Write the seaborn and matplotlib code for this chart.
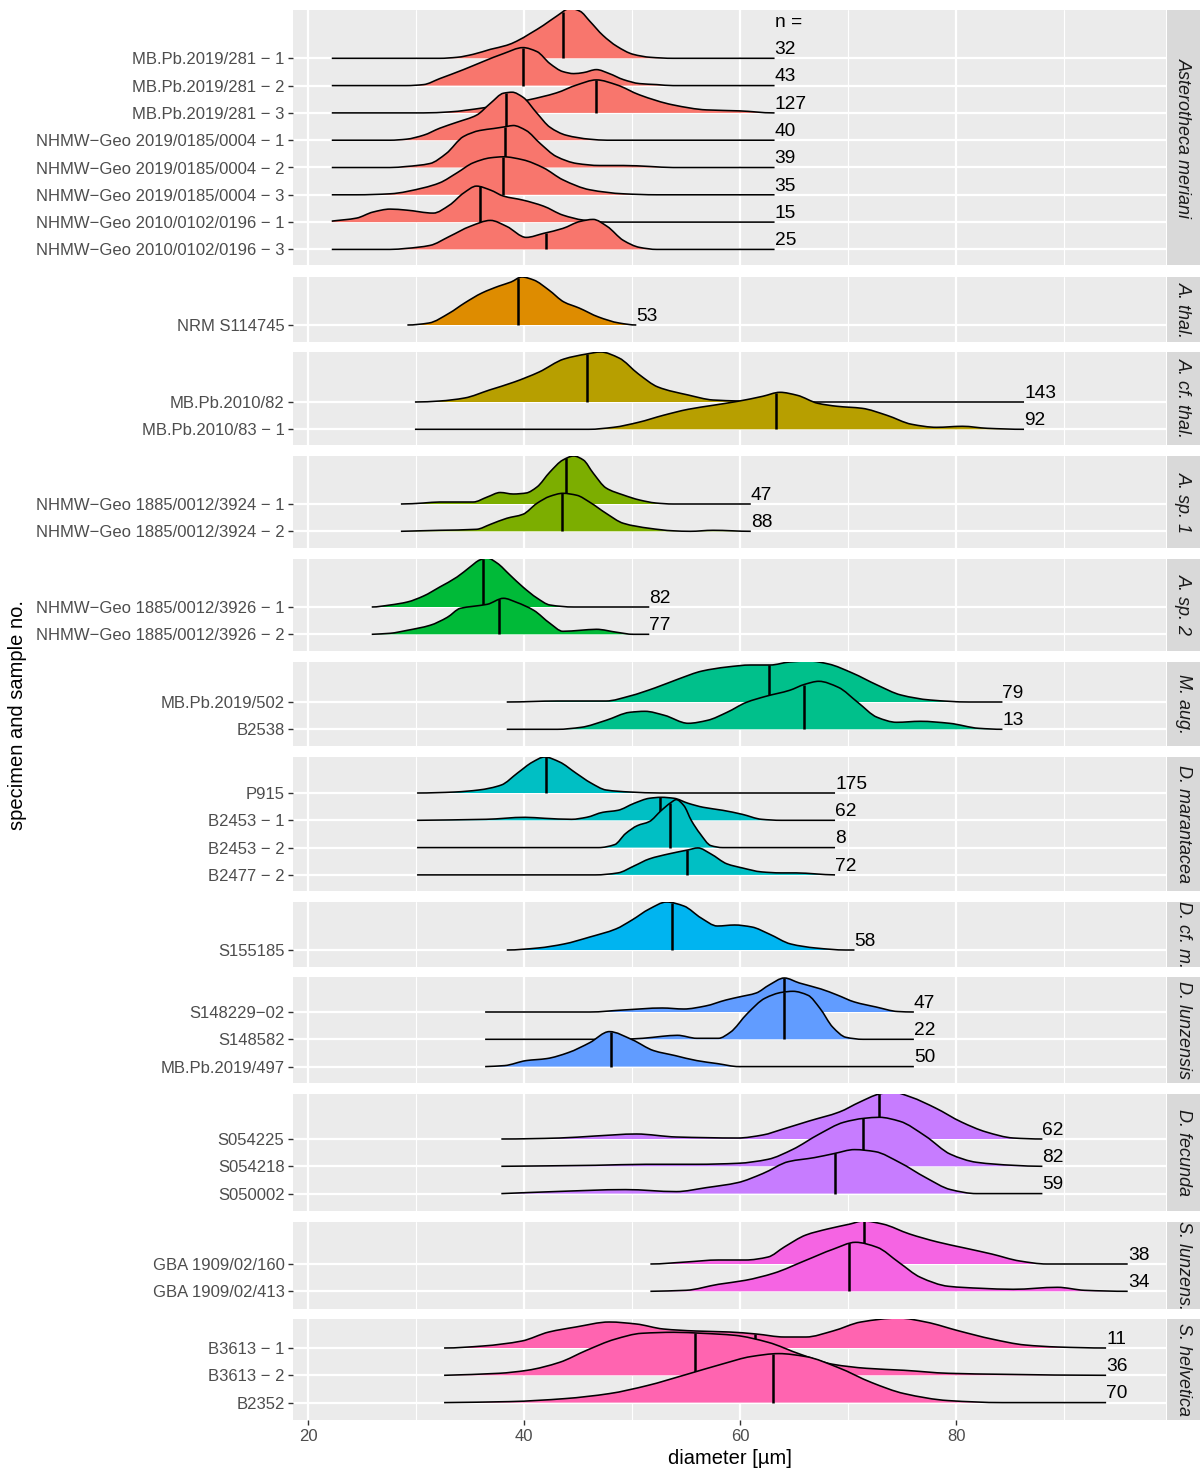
import numpy as np
import pandas as pd
import matplotlib
matplotlib.use("Agg")
import matplotlib.pyplot as plt
from matplotlib.path import Path
from matplotlib.patches import PathPatch
import seaborn as sns

sns.set_theme(style="darkgrid")
plt.rcParams['font.family'] = ['Liberation Sans', 'DejaVu Sans']

# ---------------- data ----------------
strip_labels = ["Asterotheca meriani", "A. thal.", "A. cf. thal.", "A. sp. 1", "A. sp. 2",
                "M. aug.", "D. marantacea", "D. cf. m.", "D. lunzensis", "D. fecunda",
                "S. lunzens.", "S. helvetica"]

row_labels = [
    ["MB.Pb.2019/281 − 1", "MB.Pb.2019/281 − 2", "MB.Pb.2019/281 − 3",
     "NHMW−Geo 2019/0185/0004 − 1", "NHMW−Geo 2019/0185/0004 − 2", "NHMW−Geo 2019/0185/0004 − 3",
     "NHMW−Geo 2010/0102/0196 − 1", "NHMW−Geo 2010/0102/0196 − 3"],
    ["NRM S114745"],
    ["MB.Pb.2010/82", "MB.Pb.2010/83 − 1"],
    ["NHMW−Geo 1885/0012/3924 − 1", "NHMW−Geo 1885/0012/3924 − 2"],
    ["NHMW−Geo 1885/0012/3926 − 1", "NHMW−Geo 1885/0012/3926 − 2"],
    ["MB.Pb.2019/502", "B2538"],
    ["P915", "B2453 − 1", "B2453 − 2", "B2477 − 2"],
    ["S155185"],
    ["S148229−02", "S148582", "MB.Pb.2019/497"],
    ["S054225", "S054218", "S050002"],
    ["GBA 1909/02/160", "GBA 1909/02/413"],
    ["B3613 − 1", "B3613 − 2", "B2352"],
]

n_counts = [[32, 43, 127, 40, 39, 35, 15, 25], [53], [143, 92], [47, 88], [82, 77], [79, 13],
            [175, 62, 8, 72], [58], [47, 22, 50], [62, 82, 59], [38, 34], [11, 36, 70]]

medians = [[43.6, 39.9, 46.7, 38.3, 38.2, 38.1, 35.9, 42.0], [39.4], [45.8, 63.3], [43.9, 43.5],
           [36.2, 37.7], [62.7, 65.9], [42.0, 52.6, 53.5, 55.1], [53.7], [64.1, 64.1, 48.1],
           [72.9, 71.4, 68.8], [71.5, 70.1], [61.4, 55.8, 63.1]]

# data range (µm) of each facet
data_ranges = [(22.2, 63.2), (29.2, 50.4), (29.9, 86.3), (28.6, 61.0), (25.9, 51.6), (38.4, 84.3),
               (30.1, 68.8), (38.4, 70.6), (36.4, 76.1), (37.9, 88.0), (51.7, 95.9), (32.6, 93.9)]

# density profiles: (diameter µm, density height, px)
dens_asterotheca = [
    ([32.2, 33.8, 35.3, 36.9, 38.4, 39.3, 40.6, 41.8, 43.0, 44.3, 45.2, 46.1, 47.3, 48.6, 50.1, 51.7, 53.8],
     [0, 1, 4, 9, 13, 17, 25, 33, 42, 50, 47, 37, 23, 12, 4, 1, 0]),
    ([29.1, 30.7, 32.2, 34.4, 36.2, 38.1, 39.9, 41.2, 42.4, 43.6, 44.6, 45.5, 46.7, 47.9, 49.2, 50.7, 52.3, 53.8],
     [0, 1, 7, 16, 24, 32, 38, 34, 22, 14, 12, 13, 16, 12, 6, 2, 1, 0]),
    ([30.7, 33.1, 36.2, 38.4, 40.4, 43.0, 44.9, 46.7, 48.6, 50.7, 53.8, 56.9, 60.0, 63.1],
     [0, 1, 5, 9, 13, 20, 28, 33, 28, 18, 8, 3, 2, 0]),
    ([27.6, 29.1, 30.7, 32.2, 33.8, 35.6, 36.9, 38.1, 38.9, 39.9, 41.2, 42.4, 43.9, 46.1, 47.7],
     [0, 1, 5, 12, 18, 25, 37, 47, 48, 43, 27, 13, 5, 1, 0]),
    ([27.6, 29.1, 31.3, 32.8, 34.4, 35.9, 37.2, 38.4, 39.0, 40.2, 41.5, 43.0, 44.9, 47.0, 49.2, 51.7, 53.8],
     [0, 1, 4, 14, 31, 37, 39, 41, 42, 37, 24, 11, 4, 2, 2, 1, 0]),
    ([24.5, 27.6, 30.7, 32.2, 33.8, 35.3, 36.9, 38.1, 39.9, 41.8, 43.6, 46.1, 49.2, 52.3],
     [0, 1, 7, 12, 22, 32, 37, 38, 35, 27, 15, 5, 1, 0]),
    ([22.2, 24.5, 26.0, 27.6, 29.1, 31.6, 33.1, 34.4, 35.6, 36.9, 38.1, 39.9, 41.8, 43.6, 45.5, 47.7],
     [1, 4, 10, 13, 12, 9, 17, 29, 36, 32, 26, 22, 16, 7, 2, 0]),
    ([27.6, 29.1, 31.3, 33.1, 35.0, 36.9, 38.4, 40.2, 41.8, 43.6, 45.2, 46.4, 47.7, 49.2, 50.7, 52.3],
     [0, 1, 4, 13, 23, 29, 23, 12, 16, 21, 28, 30, 23, 9, 2, 0]),
]
dens_a_thal = [
    ([29.2, 31.2, 33.1, 34.5, 36.1, 37.7, 38.8, 39.8, 40.9, 42.3, 43.7, 45.1, 46.9, 48.8, 50.4],
     [0, 2, 12, 22, 32, 39, 43, 48, 45, 35, 23, 17, 8, 2, 0]),
]
dens_a_cf_thal = [
    ([29.9, 32.2, 34.5, 36.8, 39.1, 41.4, 43.7, 45.8, 47.1, 48.8, 50.6, 52.4, 55.2, 57.5, 59.8, 62.1],
     [0, 1, 4, 12, 20, 30, 43, 48, 50, 44, 28, 15, 7, 2, 1, 0]),
    ([46.0, 48.3, 50.6, 52.9, 55.2, 57.5, 59.8, 62.1, 63.7, 65.3, 67.2, 69.0, 71.3, 73.6, 75.9, 78.2, 80.6, 82.9, 86.3],
     [0, 2, 7, 14, 20, 24, 28, 33, 37, 34, 26, 23, 21, 14, 5, 2, 3, 1, 0]),
]
dens_a_sp1 = [
    ([28.6, 30.7, 32.2, 35.3, 36.6, 37.8, 39.0, 40.2, 41.2, 42.4, 43.6, 44.6, 45.5, 46.4, 47.6, 49.2, 50.7, 52.2, 53.8],
     [0, 1, 2, 2, 7, 11.5, 10, 11, 17, 32, 44, 48, 44, 31, 16, 9, 4, 1, 0]),
    ([28.6, 32.2, 35.6, 36.9, 38.4, 39.9, 41.2, 42.4, 43.6, 44.9, 46.1, 47.6, 49.2, 51.6, 53.8, 55.4, 57.5, 61.0],
     [0, 1, 2, 7, 13, 17, 28, 35, 38, 36, 29, 18, 8, 3, 0.5, 0, 1, 0]),
]
dens_a_sp2 = [
    ([25.9, 27.6, 29.2, 30.7, 32.2, 33.8, 35.0, 35.9, 36.6, 37.5, 38.7, 39.9, 41.2, 42.4, 44.6],
     [0, 2, 5, 11, 20, 30, 40, 47, 49, 44, 32, 20, 9, 2, 0]),
    ([25.9, 27.6, 29.2, 31.3, 32.9, 34.1, 35.3, 36.6, 38.1, 39.3, 40.9, 42.4, 43.6, 45.2, 46.7, 48.6, 50.1],
     [0, 1, 4, 9, 17, 26, 28, 30, 36, 32, 24, 11, 3, 4, 5, 2, 0]),
]
dens_m_aug = [
    ([38.4, 43.1, 47.6, 49.8, 52.1, 54.3, 56.5, 58.8, 61.0, 62.8, 64.6, 66.4, 68.2, 70.4, 72.7, 74.9, 77.6, 81.2],
     [0, 1, 1, 6, 14, 23, 31, 35, 37, 37, 40, 41, 38, 29, 17, 7, 2, 0]),
    ([38.4, 43.1, 45.3, 47.6, 49.8, 51.2, 53.0, 55.2, 57.0, 58.8, 60.6, 62.4, 64.6, 66.0, 67.3, 69.1, 70.9, 72.7,
      74.5, 76.7, 79.4, 82.1, 84.3],
     [0, 0, 2, 9, 17, 18, 14, 6, 9, 17, 27, 33, 39, 45, 48, 42, 27, 12, 7, 8, 6, 1, 0]),
]
dens_d_marantacea = [
    ([30.1, 33.6, 35.8, 37.9, 39.4, 40.8, 41.9, 43.3, 44.8, 46.2, 47.6, 49.8, 52.6],
     [0, 1, 3, 8, 20, 31, 36, 31, 20, 10, 3, 1, 0]),
    ([30.1, 36.5, 40.1, 41.9, 44.4, 45.8, 47.3, 48.7, 50.2, 51.6, 52.7, 53.9, 55.2, 56.6, 58.4, 60.2, 62.0, 63.8],
     [0, 1, 3, 2, 1, 3, 8, 10, 17, 22, 23, 22, 17, 13, 10, 6, 1, 0]),
    ([46.9, 48.4, 49.4, 50.5, 51.6, 52.7, 53.6, 54.1, 54.8, 55.5, 56.3, 57.3, 58.4],
     [0, 3, 14, 22, 26, 37, 45, 48, 42, 27, 14, 2, 0]),
    ([46.6, 48.7, 50.2, 51.6, 53.4, 55.2, 56.1, 57.3, 58.8, 60.2, 62.0, 63.8, 65.2, 67.0, 68.8],
     [0, 2, 9, 16, 21, 25, 27, 21, 11, 7, 3, 2, 2, 1, 0]),
]
dens_d_cf_m = [
    ([38.4, 41.3, 43.7, 46.1, 48.5, 50.0, 51.6, 53.2, 54.8, 56.4, 57.9, 59.5, 61.1, 62.7, 64.7, 67.0, 69.8],
     [0, 2, 6, 13, 21, 30, 41, 48, 44, 32, 24, 25, 23, 16, 6, 2, 0]),
]
dens_d_lunzensis = [
    ([36.4, 46.1, 49.2, 52.8, 54.8, 56.8, 58.7, 59.9, 61.5, 62.7, 64.1, 65.5, 67.5, 69.0, 70.6, 72.6, 74.6, 76.1],
     [0, 0, 2, 4, 3, 6, 12, 15, 19, 27, 34, 29, 23, 17, 10, 5, 0.5, 0]),
    ([36.4, 48.6, 51.0, 52.8, 54.2, 56.0, 58.0, 59.1, 60.7, 62.3, 63.9, 64.9, 66.3, 67.4, 68.6, 69.8, 71.4],
     [0, 0, 1, 3, 4, 1, 1, 7, 26, 41, 47, 48, 44, 31, 12, 2, 0]),
    ([36.4, 38.2, 40.2, 42.1, 44.1, 46.1, 47.9, 50.0, 52.0, 54.0, 56.0, 57.9, 59.9],
     [0, 1, 6, 8, 14, 24, 35, 27, 16, 11, 6, 3, 0]),
]
dens_d_fecunda = [
    ([37.9, 43.3, 46.6, 50.4, 54.1, 59.8, 62.1, 64.0, 66.4, 69.2, 71.1, 72.9, 74.1, 75.8, 78.1, 80.5, 82.8, 85.3, 88.0],
     [0, 1, 3, 5, 2, 1, 4, 10, 18, 27, 37, 45, 47, 42, 31, 17, 7, 1, 0]),
    ([37.9, 46.6, 51.3, 56.0, 59.8, 62.6, 64.9, 67.3, 69.6, 71.5, 72.9, 74.8, 77.2, 79.5, 81.9, 85.3, 88.0],
     [0, 1, 2, 2, 3, 7, 17, 32, 44, 48, 49, 45, 30, 12, 4, 1, 0]),
    ([37.9, 42.8, 49.4, 54.1, 56.9, 59.8, 62.1, 64.5, 66.9, 68.7, 70.6, 72.5, 74.8, 77.2, 79.5, 81.9],
     [0, 2, 4, 2, 6, 11, 20, 32, 36, 40, 44, 42, 31, 16, 4, 0]),
]
dens_s_lunzens = [
    ([51.7, 55.0, 58.0, 60.5, 62.6, 64.1, 66.1, 68.1, 70.2, 71.4, 73.2, 75.7, 78.3, 80.8, 83.3, 85.9, 88.4],
     [0, 2, 4, 4, 7, 17, 29, 35, 40, 43, 40, 30, 22, 16, 10, 3, 0]),
    ([51.7, 55.0, 58.0, 60.5, 63.1, 66.1, 68.6, 70.7, 72.7, 74.7, 76.7, 79.3, 82.3, 85.3, 89.4, 91.9, 95.9],
     [0, 1, 7, 11, 18, 31, 42, 49, 44, 29, 14, 5, 3, 2, 4, 1, 0]),
]
dens_s_helvetica = [
    ([32.6, 36.2, 39.8, 42.3, 44.8, 47.9, 50.4, 52.9, 55.9, 59.0, 61.5, 64.1, 66.1, 68.6, 71.2, 74.7, 77.2, 80.3,
      83.3, 86.4, 89.4, 93.9],
     [0, 2, 7, 16, 21, 26, 24, 19, 17, 16, 14, 11, 11, 17, 26, 30, 26, 17, 9, 3, 1, 0]),
    ([32.6, 37.7, 40.3, 43.3, 45.8, 48.4, 50.9, 53.9, 56.5, 59.5, 62.6, 65.6, 68.6, 71.7, 75.2, 79.3, 84.3, 93.9],
     [0, 2, 5, 13, 25, 36, 42, 43, 42, 40, 33, 21, 11, 7, 5, 2, 1, 0]),
    ([32.6, 38.7, 43.8, 47.9, 51.4, 55.0, 58.5, 61.0, 63.6, 66.1, 69.1, 72.2, 75.2, 79.3, 84.3],
     [0, 1, 4, 9, 17, 28, 39, 46, 49, 46, 35, 20, 9, 2, 0]),
]

densities = [dens_asterotheca, dens_a_thal, dens_a_cf_thal, dens_a_sp1, dens_a_sp2, dens_m_aug,
             dens_d_marantacea, dens_d_cf_m, dens_d_lunzensis, dens_d_fecunda, dens_s_lunzens,
             dens_s_helvetica]

colors = ["#F8766D", "#DE8C00", "#B79F00", "#7CAE00", "#00BA38", "#00C08B",
          "#00BFC4", "#00B4F0", "#619CFF", "#C77CFF", "#F564E3", "#FF64B0"]

x_major = [20, 40, 60, 80]
x_minor = [30, 50, 70, 90]

# ---------------- layout (pixels) ----------------
W, H = 1203, 1470
PX_L, PX_R = 293, 1166
STRIP_L, STRIP_R = 1167, 1200
X20_PX, PX_PER_UM = 308, 10.8
ROW_PX = 27.3
panel_px = [(10, 265, 58.3), (277, 342, 325), (352, 445, 402), (456, 548, 504),
            (559, 651, 607), (662, 746, 702), (757, 891, 793), (902, 967, 950),
            (977, 1083, 1012), (1094, 1211, 1139), (1222, 1309, 1264), (1319, 1420, 1348)]

xlim = (20 - (X20_PX - PX_L) / PX_PER_UM, 20 + (PX_R - X20_PX) / PX_PER_UM)


def pchip_slopes(x, y):
    x = np.asarray(x, float)
    y = np.asarray(y, float)
    hx = np.diff(x)
    d = np.diff(y) / hx
    m = np.zeros_like(y)
    for k in range(1, len(x) - 1):
        if d[k - 1] * d[k] > 0:
            w1 = 2 * hx[k] + hx[k - 1]
            w2 = hx[k] + 2 * hx[k - 1]
            m[k] = (w1 + w2) / (w1 / d[k - 1] + w2 / d[k])
    if y[0] != 0:
        m[0] = d[0]
    return m


def smooth_path(x, y, base, closed):
    """Cubic Bezier path passing through the read points (Hermite form)."""
    m = pchip_slopes(x, y)
    verts = [(x[0], y[0])]
    codes = [Path.MOVETO]
    for k in range(len(x) - 1):
        dx = x[k + 1] - x[k]
        verts += [(x[k] + dx / 3, y[k] + m[k] * dx / 3),
                  (x[k + 1] - dx / 3, y[k + 1] - m[k + 1] * dx / 3),
                  (x[k + 1], y[k + 1])]
        codes += [Path.CURVE4] * 3
    if closed:
        verts += [(x[-1], base), (x[0], base), (x[0], y[0])]
        codes += [Path.LINETO, Path.LINETO, Path.CLOSEPOLY]
    return Path(verts, codes), m


def hermite_at(xq, x, y, m):
    k = int(np.clip(np.searchsorted(x, xq) - 1, 0, len(x) - 2))
    dx = x[k + 1] - x[k]
    t = (xq - x[k]) / dx
    h00 = 2 * t**3 - 3 * t**2 + 1
    h10 = t**3 - 2 * t**2 + t
    h01 = -2 * t**3 + 3 * t**2
    h11 = t**3 - t**2
    return h00 * y[k] + h10 * dx * m[k] + h01 * y[k + 1] + h11 * dx * m[k + 1]


fig = plt.figure(figsize=(W / 100, H / 100), dpi=100)
fig.patch.set_facecolor("white")

TXT = "#4D4D4D"
for p, (top, bot, first) in enumerate(panel_px):
    ax = fig.add_axes([PX_L / W, 1 - bot / H, (PX_R - PX_L) / W, (bot - top) / H])
    ax.set_facecolor("#EBEBEB")
    for s in ax.spines.values():
        s.set_visible(False)
    ax.set_xlim(*xlim)
    ax.set_ylim(-(bot - first) / ROW_PX, (first - top) / ROW_PX)
    nrows = len(row_labels[p])
    rows = [-i for i in range(nrows)]
    ax.set_yticks(rows)
    ax.set_yticklabels(row_labels[p])
    ax.set_xticks(x_major)
    ax.set_xticks(x_minor, minor=True)
    ax.set_axisbelow(True)
    ax.grid(which="major", color="white", lw=1.6)
    ax.grid(which="minor", axis="x", color="white", lw=0.8)
    ax.grid(which="minor", axis="y", visible=False)
    ax.tick_params(axis="y", length=3.6, width=1.0, color="#333333", pad=2.5,
                   labelsize=12, labelcolor=TXT, left=True)
    ax.tick_params(axis="x", which="minor", length=0)
    if p == len(panel_px) - 1:
        ax.tick_params(axis="x", which="major", length=3.6, width=1.0, color="#333333",
                       pad=3, labelsize=12, labelcolor=TXT, bottom=True)
    else:
        ax.tick_params(axis="x", which="major", length=0, labelbottom=False)

    lo, hi = data_ranges[p]
    for i, (xs, hs) in enumerate(densities[p]):
        xs = list(xs)
        hs = list(hs)
        if xs[0] > lo:
            xs = [lo] + xs
            hs = [0] + hs
        if xs[-1] < hi:
            xs = xs + [hi]
            hs = hs + [0]
        base = -i
        xa = np.array(xs, float)
        ya = base + np.array(hs, float) / ROW_PX
        z = 2 + 2 * i
        fill_path, slopes = smooth_path(xa, ya, base, closed=True)
        ax.add_patch(PathPatch(fill_path, facecolor=colors[p], edgecolor="none", lw=0, zorder=z))
        line_path, _ = smooth_path(xa, ya, base, closed=False)
        ax.add_patch(PathPatch(line_path, facecolor="none", edgecolor="black", lw=1.15,
                               zorder=z + 0.5, joinstyle="round", capstyle="butt"))
        med = medians[p][i]
        top_m = hermite_at(med, xa, ya, slopes)
        mdf = pd.DataFrame({"x": [med, med], "y": [base, top_m]})
        sns.lineplot(data=mdf, x="x", y="y", ax=ax, color="black", lw=1.8, estimator=None,
                     sort=False, zorder=z + 0.6, solid_capstyle="butt")
        ax.text(hi, base + 0.01, str(n_counts[p][i]), ha="left", va="bottom", fontsize=13.8,
                color="black", zorder=50, clip_on=False)
    if p == 0:
        ax.text(hi, 1.01, "n =", ha="left", va="bottom", fontsize=13.8, color="black",
                zorder=50, clip_on=False)
    ax.set_xlabel("")
    ax.set_ylabel("")

    sax = fig.add_axes([STRIP_L / W, 1 - bot / H, (STRIP_R - STRIP_L) / W, (bot - top) / H])
    sax.set_facecolor("#D9D9D9")
    for s in sax.spines.values():
        s.set_visible(False)
    sax.set_xticks([])
    sax.set_yticks([])
    sax.grid(False)
    sax.text(0.5, 0.5, strip_labels[p], rotation=270, ha="center", va="center",
             fontsize=13, style="italic", color="#1A1A1A", transform=sax.transAxes)

fig.text((PX_L + PX_R) / 2 / W, 1 - 1458 / H, "diameter [µm]", ha="center", va="center",
         fontsize=14.5, color="black")
fig.text(18 / W, 1 - 715 / H, "specimen and sample no.", ha="center", va="center",
         rotation=90, fontsize=14.5, color="black")

fig.savefig("out.png", dpi=100, facecolor="white")
